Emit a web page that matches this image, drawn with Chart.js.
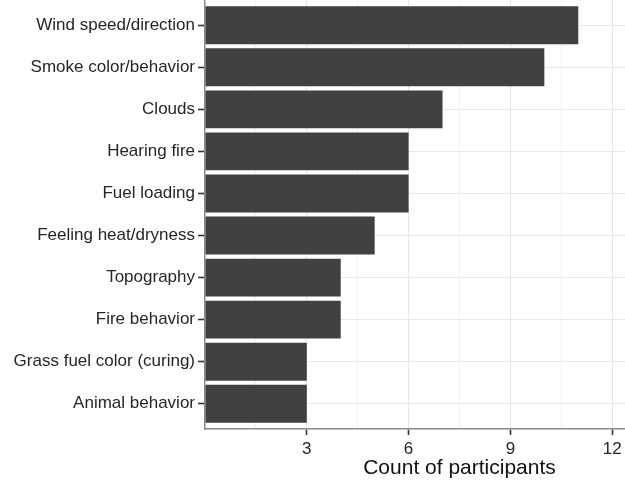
<!DOCTYPE html>
<html>
<head>
<meta charset="utf-8">
<script src="https://cdn.jsdelivr.net/npm/chart.js@4/dist/chart.umd.min.js"></script>
<style>
html,body{margin:0;padding:0;background:#fff;overflow:hidden;width:625px;height:481px;}
#wrap{position:absolute;left:0;top:0;width:714px;height:481px;}
</style>
</head>
<body>
<div id="wrap"><canvas id="c" width="714" height="481"></canvas></div>
<script>
const categories = [
  "Wind speed/direction",
  "Smoke color/behavior",
  "Clouds",
  "Hearing fire",
  "Fuel loading",
  "Feeling heat/dryness",
  "Topography",
  "Fire behavior",
  "Grass fuel color (curing)",
  "Animal behavior"
];
const counts = [11, 10, 7, 6, 6, 5, 4, 4, 3, 3];
const xTickLabels = [3, 6, 9, 12];
const xAxisTitle = "Count of participants";

const FONT = "'Liberation Sans', Arial, Helvetica, sans-serif";

new Chart(document.getElementById('c'), {
  type: 'bar',
  data: {
    labels: categories,
    datasets: [{
      data: counts,
      backgroundColor: '#414141',
      borderWidth: 0,
      barPercentage: 0.9,
      categoryPercentage: 1.0
    }]
  },
  options: {
    indexAxis: 'y',
    responsive: false,
    animation: false,
    devicePixelRatio: 1,
    layout: { padding: 0 },
    plugins: { legend: { display: false }, tooltip: { enabled: false } },
    scales: {
      x: {
        type: 'linear',
        min: 0,
        max: 15,
        afterFit: s => { s.height = 52; s.paddingLeft = 0; s.paddingRight = 0; },
        ticks: {
          stepSize: 1.5,
          autoSkip: false,
          maxRotation: 0,
          padding: 4,
          color: '#262626',
          font: { family: FONT, size: 17 },
          callback: v => xTickLabels.includes(v) ? String(v) : ''
        },
        grid: {
          drawTicks: true,
          tickLength: 6,
          lineWidth: 1,
          tickWidth: 1.6,
          color: ctx => {
            const v = ctx.tick ? ctx.tick.value : 0;
            if (v === 0) return 'rgba(0,0,0,0)';
            return (v % 3 === 0) ? '#e6e6e6' : '#f2f2f2';
          },
          tickColor: ctx => {
            const v = ctx.tick ? ctx.tick.value : 0;
            return xTickLabels.includes(v) ? '#333333' : 'rgba(0,0,0,0)';
          }
        },
        border: { display: true, color: '#8a8a8a', width: 1.5 },
        title: {
          display: true,
          text: xAxisTitle,
          color: '#111111',
          font: { family: FONT, size: 21 },
          padding: { top: 0, bottom: 0 }
        }
      },
      y: {
        type: 'category',
        offset: true,
        afterFit: s => { s.width = 205; s.paddingTop = 0; s.paddingBottom = 0; },
        afterBuildTicks: s => { s._startValue = -0.6; s._valueRange = categories.length - 1 + 1.2; },
        ticks: {
          autoSkip: false,
          padding: 3,
          color: '#262626',
          font: { family: FONT, size: 17 }
        },
        grid: {
          offset: false,
          drawTicks: true,
          tickLength: 7,
          color: '#e9e9e9',
          tickColor: '#333333',
          lineWidth: 1,
          tickWidth: 1.6
        },
        border: { display: true, color: '#8a8a8a', width: 1.5 }
      }
    }
  }
});
</script>
</body>
</html>
